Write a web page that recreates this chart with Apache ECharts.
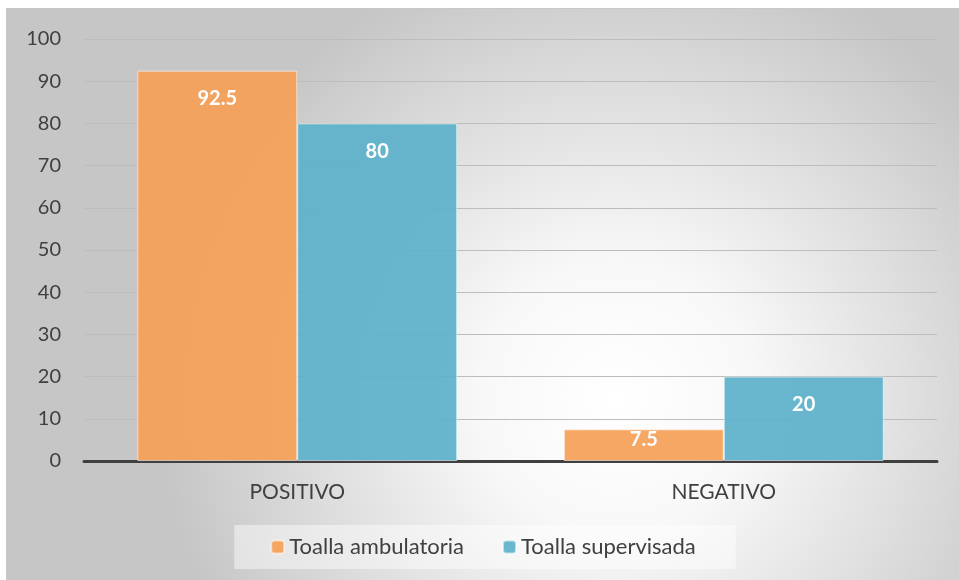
<!DOCTYPE html>
<html>
<head>
    <meta charset="UTF-8">
    <title>Toalla</title>
    <script src="https://cdn.jsdelivr.net/npm/echarts@6/dist/echarts.min.js"></script>
    <style type="text/css">
        html, body {
            height: 100%;
            width: 100%;
            margin: 0;
            padding: 0;
            background: #fff;
        }
        #main {
            position: absolute;
            left: 6px;
            top: 8px;
            width: 953px;
            height: 572px;
            box-sizing: border-box;
            border-top: 1px solid #c8c8c8;
            border-left: 1px solid #c8c8c8;
        }
    </style>
</head>
<body>
<div id="main"></div>
<script type="text/javascript">
    var categories = ['POSITIVO', 'NEGATIVO'];
    var seriesNames = ['Toalla ambulatoria', 'Toalla supervisada'];
    var ambulatoria = [92.5, 7.5];
    var supervisada = [80, 20];

    var font = 'Lato, "Open Sans", sans-serif';
    var mycharts = echarts.init(document.getElementById('main'));

    // etiqueta dentro de la barra; si la barra es corta, pegada al borde superior
    function barData(values) {
        return values.map(function (v) {
            return {
                value: v,
                label: {
                    show: true,
                    position: 'insideTop',
                    distance: v < 10 ? 0 : 18,
                    color: '#fff',
                    fontWeight: 'bold',
                    fontSize: 20,
                    fontFamily: font
                }
            };
        });
    }

    var option = {
        backgroundColor: {
            type: 'radial', x: 0.64, y: 0.68, r: 0.8,
            colorStops: [
                {offset: 0, color: '#ffffff'},
                {offset: 0.3, color: '#f8f8f8'},
                {offset: 1, color: '#c6c6c6'}
            ]
        },
        animation: false,
        grid: {left: 77, right: 22, top: 30, bottom: 119},
        legend: {
            data: seriesNames,
            bottom: 11,
            left: 'center',
            itemWidth: 13,
            itemHeight: 13,
            itemGap: 38,
            padding: [11, 40, 11, 36],
            backgroundColor: 'rgba(255,255,255,0.45)',
            textStyle: {fontSize: 22, color: '#404040', fontFamily: font}
        },
        xAxis: {
            type: 'category',
            data: categories,
            axisLine: {lineStyle: {color: '#404040', width: 3}},
            axisTick: {show: false},
            axisLabel: {fontSize: 21, color: '#404040', fontFamily: font, margin: 21}
        },
        yAxis: {
            type: 'value',
            min: 0,
            max: 100,
            interval: 10,
            axisLine: {show: false},
            axisTick: {show: false},
            splitLine: {lineStyle: {color: '#bdbdbd', width: 1}},
            axisLabel: {fontSize: 20, color: '#404040', fontFamily: font, margin: 23}
        },
        series: [
            {
                name: seriesNames[0],
                type: 'bar',
                data: barData(ambulatoria),
                barGap: '0%',
                barCategoryGap: '25%',
                itemStyle: {color: 'rgba(246,160,88,0.93)', borderColor: 'rgba(255,255,255,0.55)', borderWidth: 1}
            },
            {
                name: seriesNames[1],
                type: 'bar',
                data: barData(supervisada),
                itemStyle: {color: 'rgba(92,178,202,0.93)', borderColor: 'rgba(255,255,255,0.55)', borderWidth: 1}
            }
        ]
    };

    mycharts.setOption(option);
</script>
</body>
</html>
